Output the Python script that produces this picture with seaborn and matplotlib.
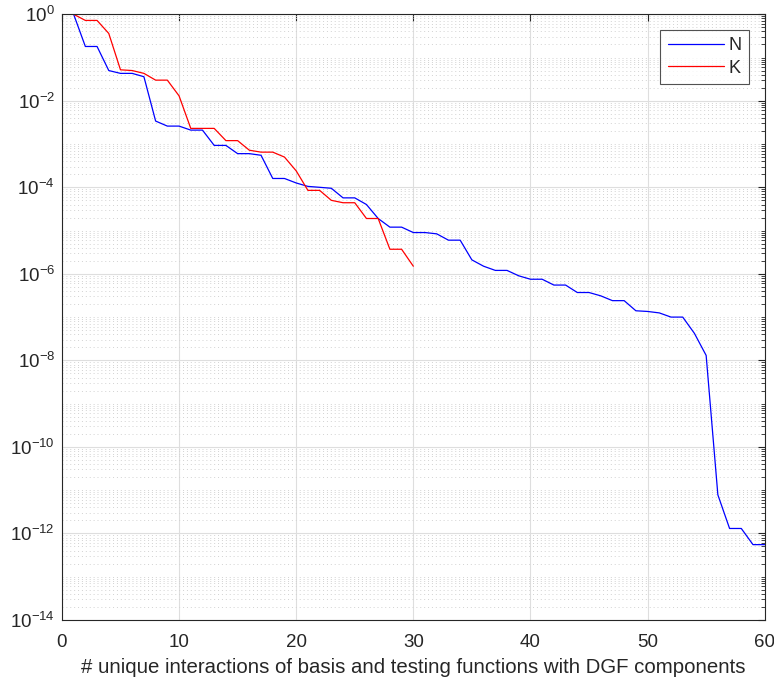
import numpy as np
import pandas as pd
import seaborn as sns
import matplotlib
matplotlib.use("Agg")
import matplotlib.pyplot as plt
from matplotlib.ticker import LogLocator, NullFormatter

# error decay values
n_x = list(range(1, 61))
n_vals = [1, 0.18, 0.18, 0.05, 0.043, 0.043, 0.036, 0.0034, 0.0026, 0.0026,
          0.0021, 0.0021, 9.3e-4, 9.3e-4, 6.0e-4, 6.0e-4, 5.5e-4, 1.6e-4, 1.6e-4, 1.26e-4,
          1.05e-4, 1.0e-4, 9.5e-5, 5.7e-5, 5.7e-5, 4.0e-5, 1.9e-5, 1.2e-5, 1.2e-5, 9.0e-6,
          9.0e-6, 8.4e-6, 6.0e-6, 6.0e-6, 2.1e-6, 1.5e-6, 1.2e-6, 1.2e-6, 9.0e-7, 7.5e-7,
          7.5e-7, 5.5e-7, 5.5e-7, 3.7e-7, 3.7e-7, 3.1e-7, 2.4e-7, 2.4e-7, 1.4e-7, 1.35e-7,
          1.25e-7, 1.0e-7, 1.0e-7, 4.2e-8, 1.3e-8, 7.8e-12, 1.3e-12, 1.3e-12, 5.5e-13, 5.5e-13]
k_x = list(range(1, 31))
k_vals = [1, 0.72, 0.72, 0.36, 0.052, 0.05, 0.043, 0.03, 0.03, 0.013,
          0.0023, 0.0023, 0.0023, 0.0012, 0.0012, 7.2e-4, 6.5e-4, 6.5e-4, 5.0e-4, 2.4e-4,
          8.5e-5, 8.5e-5, 5.0e-5, 4.4e-5, 4.4e-5, 1.9e-5, 1.9e-5, 3.7e-6, 3.7e-6, 1.5e-6]

df = pd.concat([
    pd.DataFrame({"x": n_x, "err": n_vals, "series": "N"}),
    pd.DataFrame({"x": k_x, "err": k_vals, "series": "K"}),
])

sns.set_style("white")
plt.rcParams['font.family'] = ['Liberation Sans', 'DejaVu Sans']
plt.rcParams['mathtext.fontset'] = 'custom'
plt.rcParams['mathtext.rm'] = 'Liberation Sans'
plt.rcParams['mathtext.it'] = 'Liberation Sans:italic'

fig = plt.figure(figsize=(7.74, 6.79), dpi=100)
ax = fig.add_axes([0.080, 0.087, 0.908, 0.892])

sns.lineplot(data=df, x="x", y="err", hue="series", palette={"N": "#0000ff", "K": "#ff0000"},
             linewidth=0.9, ax=ax)

ax.set_yscale("log")
ax.set_xlim(0, 60)
ax.set_ylim(1e-14, 1)
ax.set_xticks(range(0, 61, 10))
ax.set_yticks([10.0 ** -k for k in range(0, 15, 2)])
ax.yaxis.set_minor_locator(LogLocator(base=10, subs=np.arange(1, 10), numticks=100))
ax.yaxis.set_minor_formatter(NullFormatter())

ax.grid(True, which="major", color="#dedede", linewidth=0.8, linestyle="-")
ax.grid(True, which="minor", axis="y", color="#d2d2d2", linewidth=0.7, linestyle=(0, (1, 3)))
ax.set_axisbelow(True)

ax.tick_params(which="both", direction="in", top=True, right=True, labelsize=13.5, colors="#262626")
ax.tick_params(which="major", length=5)
ax.tick_params(which="minor", length=3)
ax.tick_params(axis="x", which="major", pad=10)
ax.tick_params(axis="y", which="major", pad=5)
for s in ax.spines.values():
    s.set_color("#262626")
    s.set_linewidth(0.8)

ax.set_xlabel("# unique interactions of basis and testing functions with DGF components",
              fontsize=14.7, color="#262626", labelpad=5)
ax.set_ylabel("")

leg = ax.legend(loc="upper right", fontsize=13, frameon=True, fancybox=False,
                handlelength=3.1, handletextpad=0.25, borderpad=0.4, labelspacing=0.3,
                borderaxespad=0, bbox_to_anchor=(0.977, 0.974))
leg.get_frame().set_edgecolor("#262626")
leg.get_frame().set_linewidth(0.8)
leg.set_title(None)

fig.savefig("out.png", dpi=100)
